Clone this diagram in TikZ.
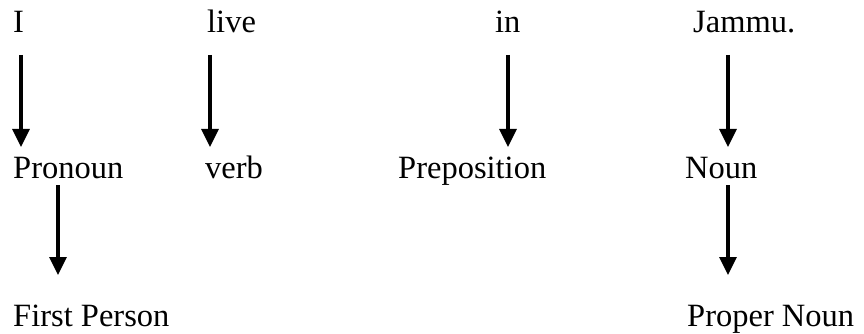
\documentclass[tikz,border=0pt]{standalone}
\usepackage{fontspec}
\setmainfont{Liberation Serif}
\usetikzlibrary{arrows.meta}
\begin{document}
\begin{tikzpicture}[x=1pt,y=1pt,
  word/.style={anchor=base west,inner sep=0pt,font=\fontsize{32.5}{38}\selectfont},
  arr/.style={line width=3.2pt,-{Triangle[width=17pt,length=18pt]}}]
\useasboundingbox (0,0) rectangle (864,-334);
% row 1
\node[word] (I) at (13,-33) {I};
\node[word] (live) at (207,-33) {live};
\node[word] (in) at (495,-33) {in};
\node[word] (jammu) at (693,-33) {Jammu.};
% row 2
\node[word] (pronoun) at (13,-178) {Pronoun};
\node[word] (verb) at (205,-178) {verb};
\node[word] (prep) at (398,-178) {Preposition};
\node[word] (noun) at (685,-178) {Noun};
% row 3
\node[word] (first) at (13,-326) {First Person};
\node[word] (proper) at (687,-326) {Proper Noun};
% arrow ends
\coordinate (s1) at (21,-55);  \coordinate (e1) at (21,-147);
\coordinate (s2) at (210,-55); \coordinate (e2) at (210,-147);
\coordinate (s3) at (508,-55); \coordinate (e3) at (508,-147);
\coordinate (s4) at (728,-55); \coordinate (e4) at (728,-147);
\coordinate (s5) at (58,-185); \coordinate (e5) at (58,-275);
\coordinate (s6) at (728,-185); \coordinate (e6) at (728,-275);
\draw[arr] (s1) -- (e1);
\draw[arr] (s2) -- (e2);
\draw[arr] (s3) -- (e3);
\draw[arr] (s4) -- (e4);
\draw[arr] (s5) -- (e5);
\draw[arr] (s6) -- (e6);
\end{tikzpicture}
\end{document}
